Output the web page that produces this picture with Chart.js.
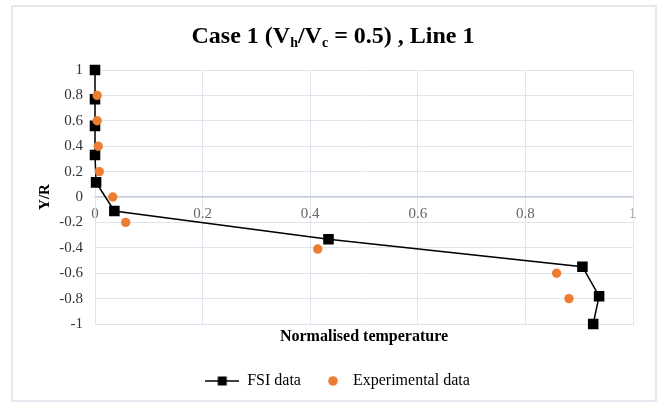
<!DOCTYPE html>
<html><head><meta charset="utf-8">
<script src="https://cdn.jsdelivr.net/npm/chart.js@4"></script>
<style>html,body{margin:0;padding:0;background:#fff}#wrap{width:659px;height:403px}</style>
</head><body><div id="wrap"><canvas id="c" width="659" height="403"></canvas></div>
<script>
const fsiX = [0, 0, 0, 0, 0.002, 0.036, 0.434, 0.906, 0.937, 0.926];
const fsiY = [1, 0.77, 0.56, 0.33, 0.115, -0.11, -0.333, -0.549, -0.781, -1];
const expX = [0.004, 0.004, 0.006, 0.008, 0.033, 0.057, 0.414, 0.858, 0.881];
const expY = [0.8, 0.6, 0.4, 0.2, 0, -0.2, -0.41, -0.6, -0.8];
const seriesNames = ['FSI data', 'Experimental data'];
const xTicks = [0, 0.2, 0.4, 0.6, 0.8, 1];
const yTicks = [1, 0.8, 0.6, 0.4, 0.2, 0, -0.2, -0.4, -0.6, -0.8, -1];
const titleParts = [['Case 1 (V', 0], ['h', 1], ['/V', 0], ['c', 1], [' = 0.5) , Line 1', 0]];
const xTitle = 'Normalised temperature';
const yTitle = 'Y/R';

const SERIF = '"Liberation Serif", "Times New Roman", serif';
const ORANGE = '#ED7D31';
const GRID = '#dfe5ee';

function legendImg(kind){
  const c = document.createElement('canvas'); c.width = 34; c.height = 12;
  const g = c.getContext('2d');
  if (kind === 0){
    g.strokeStyle = '#000'; g.lineWidth = 1.5;
    g.beginPath(); g.moveTo(0, 6); g.lineTo(34, 6); g.stroke();
    g.fillStyle = '#000'; g.fillRect(12.5, 1.5, 9, 9);
  } else {
    g.fillStyle = ORANGE; g.beginPath(); g.arc(22, 6, 4.8, 0, Math.PI*2); g.fill();
  }
  return c;
}

const frame = {
  id: 'frame',
  beforeDraw(chart){
    const ctx = chart.ctx; ctx.save();
    ctx.strokeStyle = '#dde2ea'; ctx.lineWidth = 1.5;
    ctx.strokeRect(12, 6, 644, 395);
    ctx.restore();
  },
  afterDraw(chart){
    const ctx = chart.ctx; ctx.save();
    ctx.fillStyle = '#000'; ctx.textBaseline = 'alphabetic';
    const big = 'bold 24px ' + SERIF, small = 'bold 14px ' + SERIF;
    let total = 0;
    titleParts.forEach(([t, s]) => { ctx.font = s ? small : big; total += ctx.measureText(t).width; });
    let x = 333 - total/2; const base = 43;
    titleParts.forEach(([t, s]) => {
      ctx.font = s ? small : big;
      ctx.fillText(t, x, s ? base + 4 : base);
      x += ctx.measureText(t).width;
    });
    ctx.restore();
  }
};

new Chart(document.getElementById('c'), {
  type: 'scatter',
  data: {
    datasets: [
      { label: seriesNames[0], data: fsiX.map((v,i)=>({x:v, y:fsiY[i]})), showLine: true,
        borderColor: '#000', backgroundColor: '#000', borderWidth: 1.5, clip: false,
        pointStyle: 'rect', pointRadius: 6.4, pointHoverRadius: 6.4, tension: 0, order: 2 },
      { label: seriesNames[1], data: expX.map((v,i)=>({x:v, y:expY[i]})), clip: false,
        borderColor: ORANGE, backgroundColor: ORANGE, borderWidth: 0,
        pointStyle: 'circle', pointRadius: 4.7, pointHoverRadius: 4.7, order: 1 }
    ]
  },
  options: {
    responsive: false, animation: false, devicePixelRatio: 1,
    layout: { padding: { left: 28, right: 12, top: 70, bottom: 4 } },
    plugins: {
      title: { display: false },
      tooltip: { enabled: false },
      legend: {
        position: 'bottom',
        labels: {
          usePointStyle: true, pointStyleWidth: 34, padding: 10,
          color: '#404040', font: { family: SERIF, size: 16 },
          generateLabels(chart){
            return chart.data.datasets.map((d, i) => ({
              text: d.label, pointStyle: legendImg(i), datasetIndex: i,
              fillStyle: d.backgroundColor, strokeStyle: d.borderColor, lineWidth: 0, hidden: false
            }));
          }
        }
      }
    },
    scales: {
      x: {
        type: 'linear', position: 'bottom', min: 0, max: 1,
        afterBuildTicks(s){ s.ticks = xTicks.map(v => ({value: v})); },
        ticks: { display: false },
        grid: { color: GRID, lineWidth: 1, drawTicks: false },
        border: { display: true, color: GRID },
        title: { display: true, text: xTitle, color: '#000', padding: { top: 0, bottom: 16.4 },
                 font: { family: SERIF, size: 16, weight: 'bold' } },
        afterFit(s){ s.height = 39; }
      },
      x2: {
        type: 'linear', axis: 'x', position: { y: 0 }, min: 0, max: 1,
        afterBuildTicks(s){ s.ticks = xTicks.map(v => ({value: v})); },
        ticks: { color: '#666', padding: 8, font: { family: SERIF, size: 15 }, callback: v => String(v) },
        grid: { display: false, drawTicks: false },
        border: { display: true, color: '#c3cddb', width: 1.2 }
      },
      y: {
        type: 'linear', position: 'left', min: -1, max: 1,
        afterBuildTicks(s){ s.ticks = yTicks.map(v => ({value: v})); },
        ticks: { color: '#333', padding: 12, font: { family: SERIF, size: 15 }, callback: v => String(v) },
        grid: { color: GRID, lineWidth: 1, drawTicks: false },
        border: { display: true, color: GRID },
        title: { display: true, text: yTitle, color: '#000', padding: { top: 8, bottom: 0 },
                 font: { family: SERIF, size: 15, weight: 'bold' } },
        afterFit(s){ s.width = 67; }
      },
      y2: {
        type: 'linear', position: 'right', min: -1, max: 1, display: true,
        ticks: { display: false }, grid: { display: false, drawTicks: false },
        border: { display: true, color: GRID }, afterFit(s){ s.width = 14; }
      }
    }
  },
  plugins: [frame]
});
</script></body></html>
